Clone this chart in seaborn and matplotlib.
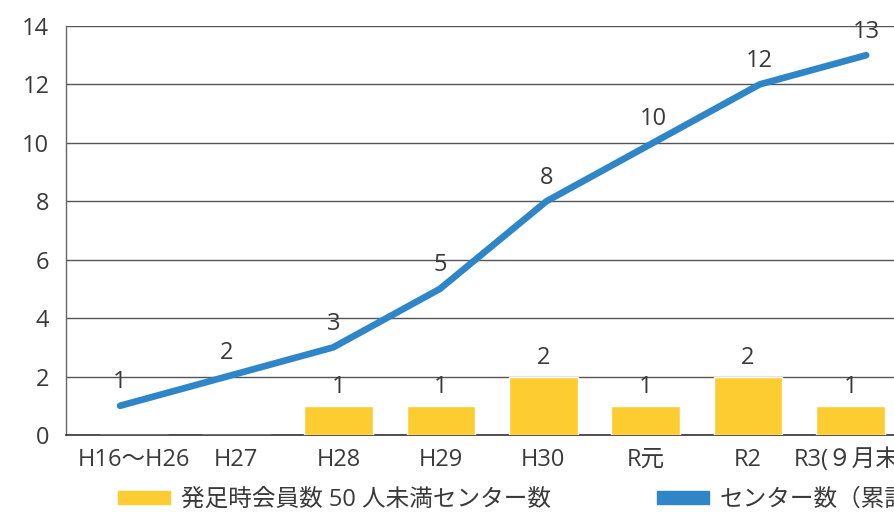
import matplotlib
matplotlib.use("Agg")
import matplotlib.pyplot as plt
import seaborn as sns
import pandas as pd
import numpy as np
from matplotlib.patches import Patch

categories = ["H16～H26", "H27", "H28", "H29", "H30", "R元", "R2", "R3(９月末)"]
small_centers = [0, 0, 1, 1, 2, 1, 2, 1]
total_centers = [1, 2, 3, 5, 8, 10, 12, 13]
yticks = [0, 2, 4, 6, 8, 10, 12, 14]
legend_labels = ["発足時会員数 50 人未満センター数", "センター数（累計）"]

sns.set_theme(style="white")
plt.rcParams["font.family"] = ["Open Sans", "Noto Sans CJK JP", "DejaVu Sans"]

YELLOW = "#FDCC30"
BLUE = "#2E86C8"
TXT = "#3a3a3a"
FS = 17
FW = "normal"

fig = plt.figure(figsize=(8.94, 5.12), dpi=100)
ax = fig.add_axes([66 / 894, (512 - 435) / 512, 836 / 894, (435 - 26) / 512])

df = pd.DataFrame({"cat": categories, "small": small_centers,
                   "total": total_centers, "pos": np.arange(len(categories))})

sns.barplot(data=df, x="cat", y="small", order=categories, color=YELLOW,
            saturation=1, width=0.67, ax=ax, zorder=3)
for i, v in enumerate(small_centers):
    if v > 0:
        ax.text(i, v + 0.22, str(v), ha="center", va="bottom", fontsize=FS,
                color=TXT, zorder=5, fontweight=FW)

ax.set_xlim(-0.665, 7.505)
ax.set_ylim(0, 14)
ax.set_yticks(yticks)
ax.set_xticks(range(len(categories)))
ax.set_xticklabels(categories)
ax.set_xlabel("")
ax.set_ylabel("")
ax.tick_params(axis="both", length=0, labelsize=FS, colors=TXT)
ax.tick_params(axis="y", pad=12)
ax.tick_params(axis="x", pad=9)
for t in ax.get_yticklabels() + ax.get_xticklabels():
    t.set_color(TXT)
    t.set_fontweight(FW)

ax.yaxis.grid(True, color="#555555", lw=1, zorder=0)
ax.set_axisbelow(True)
for s in ["top", "right"]:
    ax.spines[s].set_visible(False)
ax.spines["left"].set_color("#666666")
ax.spines["bottom"].set_color("#333333")
ax.spines["left"].set_linewidth(1)
ax.spines["bottom"].set_linewidth(1.2)

# cumulative line on its own category scale
ax2 = ax.twiny()
sns.lineplot(data=df, x="pos", y="total", color=BLUE, lw=4.8, ax=ax2,
             zorder=4, solid_capstyle="round", solid_joinstyle="round")
for i, v in enumerate(total_centers):
    ax2.text(i, v + 0.4, str(v), ha="center", va="bottom", fontsize=FS,
             color=TXT, zorder=5, fontweight=FW)
ax2.set_xlim(-0.507, 7.336)
ax2.set_ylim(0, 14)
ax2.set_xticks([])
ax2.set_xlabel("")
ax2.set_ylabel("")
for s in ax2.spines.values():
    s.set_visible(False)

handles = [Patch(color=YELLOW), Patch(color=BLUE)]
leg = fig.legend(handles, legend_labels, loc="center left",
                 bbox_to_anchor=(118 / 894, 12 / 512), ncol=2, frameon=False,
                 borderaxespad=0, borderpad=0, fontsize=FS,
                 handlelength=2.2, handleheight=0.5, handletextpad=0.45,
                 columnspacing=4.5, labelcolor=TXT)
for t in leg.get_texts():
    t.set_fontweight(FW)

fig.savefig("out.png", dpi=100)
